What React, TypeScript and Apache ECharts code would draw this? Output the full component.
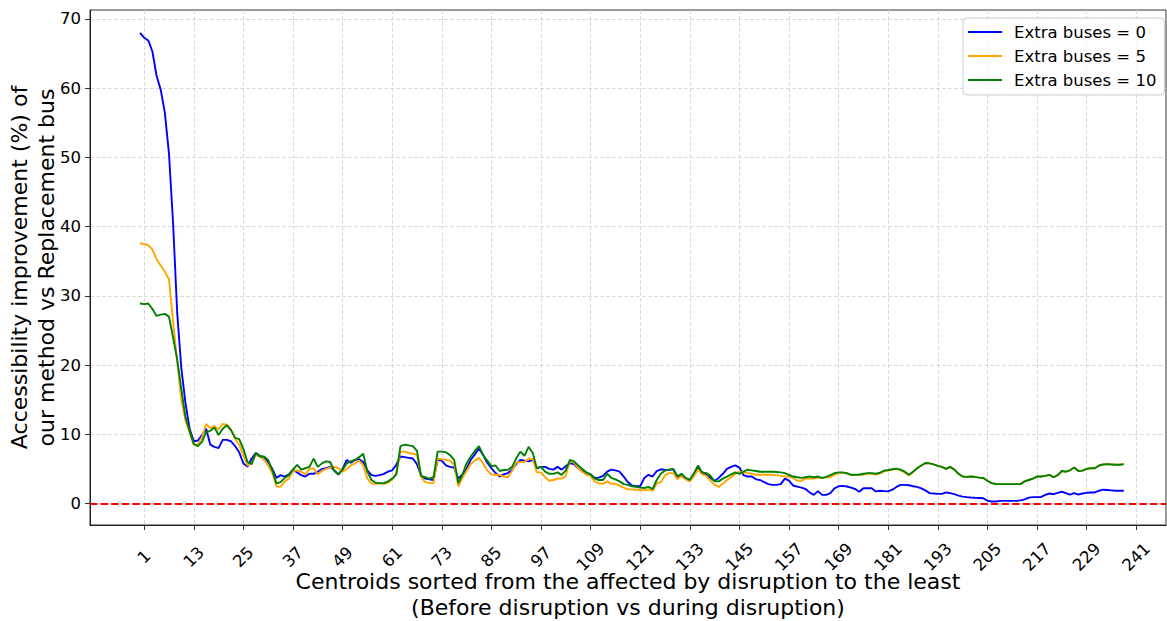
import React, { useEffect, useRef } from "react";
import * as echarts from "echarts";

const seriesNames = ["Extra buses = 0", "Extra buses = 5", "Extra buses = 10"];
const seriesColors = ["#0000ff", "#ffa500", "#008000"];

const xTickValues = [1, 13, 25, 37, 49, 61, 73, 85, 97, 109, 121, 133, 145, 157, 169, 181, 193, 205, 217, 229, 241];
const yTickValues = [0, 10, 20, 30, 40, 50, 60, 70];

// accessibility improvement (%) per centroid (index 0..238)
const extraBuses0 = [
  68.0, 67.3, 66.9, 65.3, 61.8, 59.8, 56.5, 50.6, 40.5, 27.5,
  19.5, 14.5, 10.8, 9.0, 9.1, 9.9, 10.8, 8.5, 8.2, 8.0,
  9.2, 9.2, 9.0, 8.3, 7.4, 5.8, 5.35, 6.5, 7.3, 6.9,
  6.7, 6.0, 5.0, 3.7, 4.1, 3.9, 4.2, 4.9, 4.5, 4.1,
  3.9, 4.3, 4.3, 4.6, 5.0, 5.1, 5.3, 4.8, 4.2, 5.0,
  6.3, 5.9, 6.3, 6.4, 6.0, 4.8, 4.1, 4.0, 4.1, 4.3,
  4.6, 4.8, 5.6, 6.8, 6.7, 6.6, 6.5, 5.7, 4.0, 3.6,
  3.5, 3.4, 6.3, 6.2, 5.5, 5.3, 5.2, 3.6, 4.2, 5.0,
  6.3, 7.1, 8.0, 7.0, 5.9, 5.1, 4.4, 3.9, 4.2, 4.4,
  4.9, 5.7, 6.3, 6.2, 6.1, 6.3, 5.1, 5.3, 5.3, 5.0,
  4.9, 5.3, 4.9, 5.4, 5.8, 5.7, 5.1, 4.7, 4.4, 4.2,
  3.7, 3.75, 4.0, 4.6, 4.9, 4.8, 4.6, 3.9, 3.1, 2.6,
  2.5, 2.5, 3.7, 4.15, 3.9, 4.7, 4.95, 4.87, 4.87, 4.96,
  3.9, 4.0, 3.6, 3.4, 4.2, 5.2, 4.5, 4.2, 3.7, 3.3,
  3.7, 4.3, 5.0, 5.3, 5.5, 5.2, 4.1, 3.9, 3.9, 3.5,
  3.4, 3.1, 2.8, 2.7, 2.7, 2.8, 3.6, 3.3, 2.6, 2.45,
  2.3, 2.1, 1.6, 1.25, 1.8, 1.25, 1.25, 1.5, 2.2, 2.5,
  2.55, 2.46, 2.3, 2.1, 1.7, 2.2, 2.2, 2.2, 1.75, 1.85,
  1.8, 1.75, 2.0, 2.4, 2.7, 2.7, 2.65, 2.5, 2.4, 2.2,
  1.9, 1.5, 1.45, 1.4, 1.4, 1.6, 1.5, 1.35, 1.15, 1.0,
  0.92, 0.87, 0.83, 0.8, 0.77, 0.4, 0.3, 0.3, 0.39, 0.39,
  0.39, 0.39, 0.39, 0.45, 0.6, 0.85, 0.92, 0.92, 0.95, 1.25,
  1.45, 1.35, 1.55, 1.7, 1.5, 1.3, 1.5, 1.3, 1.45, 1.55,
  1.6, 1.6, 1.85, 2.0, 1.95, 1.9, 1.85, 1.84, 1.84,
];

const extraBuses5 = [
  37.6, 37.5, 37.3, 36.7, 35.3, 34.4, 33.5, 32.4, 26.2, 20.5,
  15.0, 12.0, 10.2, 8.5, 8.5, 9.6, 11.5, 10.9, 11.2, 10.7,
  11.5, 11.4, 10.7, 9.4, 8.5, 7.0, 5.5, 5.8, 7.0, 6.8,
  6.3, 5.5, 4.4, 2.5, 2.4, 3.2, 3.6, 4.7, 4.8, 4.6,
  4.2, 5.0, 5.1, 4.2, 4.7, 5.0, 5.2, 5.3, 5.1, 4.6,
  5.0, 5.5, 5.8, 6.2, 5.5, 3.6, 2.9, 2.85, 2.85, 2.85,
  3.0, 3.5, 4.3, 7.5, 7.5, 7.3, 7.2, 7.0, 3.8, 3.1,
  2.95, 2.95, 6.5, 6.4, 6.3, 6.2, 5.6, 2.5, 3.7, 4.7,
  5.7, 6.2, 6.6, 5.8, 4.8, 4.2, 4.15, 4.1, 3.9, 3.8,
  4.7, 5.9, 6.0, 6.0, 6.5, 6.4, 4.5, 4.5, 3.8, 3.3,
  3.4, 3.6, 3.6, 4.0, 6.2, 5.9, 5.1, 4.6, 4.15, 4.0,
  3.2, 2.9, 2.85, 3.2, 2.85, 2.85, 2.6, 2.3, 2.05, 2.05,
  2.0, 1.95, 1.9, 2.05, 1.85, 2.9, 3.1, 4.1, 4.4, 4.4,
  3.5, 4.0, 3.5, 3.2, 4.0, 4.9, 4.2, 4.0, 3.3, 2.7,
  2.4, 2.9, 3.4, 3.8, 4.3, 4.6, 4.5, 4.4, 4.3, 4.15,
  4.15, 4.15, 4.15, 4.15, 4.1, 4.0, 3.9, 3.9, 3.7, 3.3,
  3.3, 3.6, 3.6, 3.6, 3.7, 3.7, 3.75, 3.8, 4.15, 4.4,
  4.4, 4.35, 4.1, 4.1, 4.1, 4.2, 4.3, 4.3, 4.2, 4.35,
  4.65, 4.75, 4.9, 5.0, 4.8, 4.5, 4.05, 4.55, 5.1, 5.5,
  5.85, 5.8, 5.65, 5.45, 5.3, 5.0, 5.3, 4.9, 4.3, 3.9,
  3.85, 3.9, 3.85, 3.75, 3.7, 3.3, 2.95, 2.82, 2.8, 2.8,
  2.8, 2.8, 2.8, 2.8, 3.2, 3.4, 3.6, 3.9, 3.9, 4.0,
  4.15, 3.8, 4.1, 4.7, 4.6, 4.8, 5.2, 4.7, 4.75, 5.0,
  5.1, 5.1, 5.5, 5.65, 5.7, 5.65, 5.6, 5.6, 5.7,
];

const extraBuses10 = [
  28.9, 28.8, 28.9, 28.1, 27.1, 27.3, 27.4, 27.0, 24.0, 20.8,
  16.5, 12.5, 10.5, 8.6, 8.3, 8.9, 10.3, 10.5, 11.0, 9.9,
  10.8, 11.3, 10.6, 9.5, 9.3, 7.9, 6.0, 5.7, 7.3, 6.8,
  6.8, 6.3, 4.8, 2.9, 3.1, 3.7, 4.1, 4.9, 5.6, 4.9,
  5.1, 5.3, 6.5, 5.3, 5.8, 6.1, 6.0, 4.7, 4.2, 4.9,
  5.8, 6.1, 6.3, 6.7, 7.2, 4.6, 3.4, 3.0, 2.95, 2.95,
  3.2, 3.6, 4.2, 8.3, 8.5, 8.4, 8.3, 7.6, 4.0, 3.8,
  3.6, 3.8, 7.5, 7.5, 7.4, 7.0, 6.3, 2.95, 4.2, 5.8,
  6.8, 7.6, 8.3, 7.0, 6.2, 5.4, 5.5, 4.7, 4.85, 4.87,
  5.3, 6.5, 7.5, 6.9, 8.2, 7.3, 5.1, 5.3, 4.6, 4.3,
  4.3, 4.5, 4.15, 4.8, 6.3, 6.1, 5.5, 5.0, 4.5, 4.2,
  3.6, 3.4, 3.4, 4.3, 3.7, 3.5, 3.2, 2.8, 2.7, 2.5,
  2.4, 2.3, 2.25, 2.4, 2.1, 3.4, 4.3, 4.77, 4.9, 5.0,
  3.9, 4.3, 3.7, 3.4, 4.4, 5.5, 4.5, 4.4, 4.0, 3.2,
  3.2, 3.6, 3.9, 4.2, 4.5, 4.3, 4.6, 4.9, 4.8, 4.7,
  4.6, 4.6, 4.6, 4.6, 4.55, 4.5, 4.4, 4.15, 3.9, 3.8,
  3.7, 3.8, 3.9, 3.8, 3.9, 3.7, 3.85, 4.1, 4.4, 4.5,
  4.5, 4.4, 4.15, 4.15, 4.2, 4.3, 4.4, 4.4, 4.3, 4.45,
  4.75, 4.85, 4.96, 5.05, 4.9, 4.6, 4.15, 4.6, 5.1, 5.5,
  5.85, 5.8, 5.65, 5.45, 5.3, 5.0, 5.3, 4.9, 4.3, 3.9,
  3.85, 3.9, 3.85, 3.75, 3.7, 3.3, 2.95, 2.82, 2.8, 2.8,
  2.8, 2.8, 2.8, 2.8, 3.2, 3.4, 3.6, 3.9, 3.9, 4.0,
  4.15, 3.8, 4.1, 4.7, 4.6, 4.8, 5.2, 4.7, 4.75, 5.0,
  5.1, 5.1, 5.5, 5.65, 5.7, 5.65, 5.6, 5.6, 5.7,
];

const seriesValues = [extraBuses0, extraBuses5, extraBuses10];

const FONT = "DejaVu Sans";

export default function App() {
  const ref = useRef<HTMLDivElement>(null);

  useEffect(() => {
    if (!ref.current) return;
    const chart = echarts.init(ref.current, undefined, { renderer: "svg" });

    const series: any[] = seriesValues.map((vals, s) => ({
      name: seriesNames[s],
      type: "line",
      data: vals.map((v, i) => [i, v]),
      showSymbol: false,
      symbol: "none",
      lineStyle: { color: seriesColors[s], width: 1.9 },
      itemStyle: { color: seriesColors[s] },
      z: 3 + s,
    }));
    series[2].markLine = {
      silent: true,
      symbol: ["none", "none"],
      label: { show: false },
      lineStyle: { color: "#ff0000", width: 2.2, type: [7.4, 3.2] },
      data: [{ yAxis: 0 }],
    };

    chart.setOption({
      animation: false,
      backgroundColor: "#ffffff",
      grid: {
        left: 90,
        right: 1,
        top: 10,
        bottom: 96,
        show: true,
        borderColor: "#000000",
        borderWidth: 0.8,
        containLabel: false,
        outerBoundsMode: "none",
      },
      legend: {
        data: seriesNames,
        orient: "vertical",
        left: 963,
        top: 18,
        icon: "rect",
        itemWidth: 34,
        itemHeight: 2,
        itemGap: 4,
        padding: [4, 8, 5, 5],
        backgroundColor: "rgba(255,255,255,0.8)",
        borderColor: "#cccccc",
        borderWidth: 1,
        borderRadius: 4,
        textStyle: {
          fontFamily: FONT,
          fontSize: 16.5,
          color: "#000000",
          lineHeight: 20,
          padding: [0, 0, 0, 7],
        },
        z: 10,
      },
      xAxis: {
        type: "value",
        min: -12.1,
        max: 248.2,
        name: "Centroids sorted from the affected by disruption to the least\n(Before disruption vs during disruption)",
        nameLocation: "middle",
        nameGap: 43,
        nameMoveOverlap: false,
        nameTextStyle: { fontFamily: FONT, fontSize: 22, color: "#000000", lineHeight: 26 },
        axisLine: { onZero: false, lineStyle: { color: "#000000", width: 0.8 } },
        axisTick: { show: true, customValues: xTickValues, length: 5, lineStyle: { color: "#000000", width: 0.8 } },
        axisLabel: {
          customValues: xTickValues,
          rotate: 45,
          align: "center",
          verticalAlign: "middle",
          margin: 32,
          fontFamily: FONT,
          fontSize: 16.5,
          color: "#000000",
        },
        splitLine: { show: true, lineStyle: { color: "#d0d0d0", width: 0.8, type: [4, 2] } },
      },
      yAxis: {
        type: "value",
        min: -3.1,
        max: 71.3,
        name: "Accessibility improvement (%) of\nour method vs Replacement bus",
        nameLocation: "middle",
        nameGap: 30,
        nameMoveOverlap: false,
        nameTextStyle: { fontFamily: FONT, fontSize: 22, color: "#000000", lineHeight: 27 },
        axisLine: { show: true, onZero: false, lineStyle: { color: "#000000", width: 0.8 } },
        axisTick: { show: true, customValues: yTickValues, length: 5, lineStyle: { color: "#000000", width: 0.8 } },
        axisLabel: {
          customValues: yTickValues,
          margin: 9,
          fontFamily: FONT,
          fontSize: 16.5,
          color: "#000000",
        },
        splitLine: { show: true, lineStyle: { color: "#d0d0d0", width: 0.8, type: [4, 2] } },
      },
      series,
    });

    return () => {
      chart.dispose();
    };
  }, []);

  return (
    <div
      ref={ref}
      style={{ position: "fixed", left: 0, top: 0, width: 1167, height: 621, background: "#fff" }}
    />
  );
}
